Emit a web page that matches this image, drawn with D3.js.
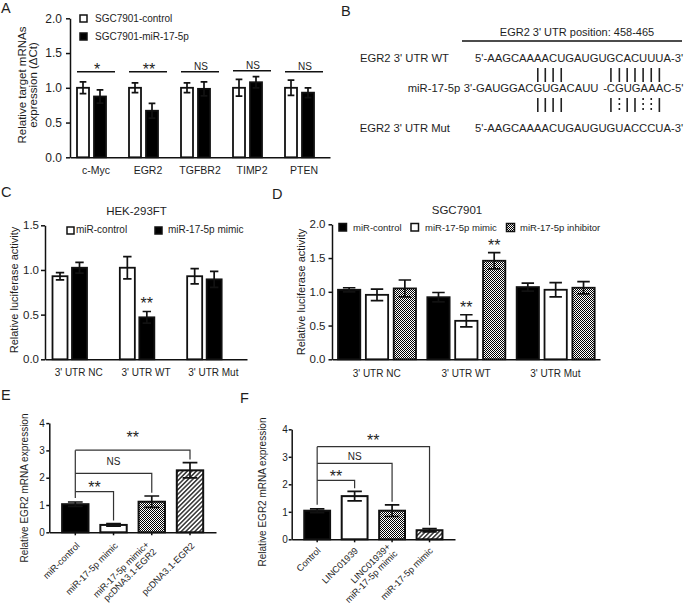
<!DOCTYPE html>
<html>
<head>
<meta charset="utf-8">
<script src="https://cdn.jsdelivr.net/npm/d3@7/dist/d3.min.js"></script>
<style>
  html,body{margin:0;padding:0;background:#fff;}
  svg text{font-family:Arial,"Liberation Sans",Helvetica,sans-serif;fill:#1e1e1e;}
</style>
</head>
<body>
<svg id="fig" width="685" height="607" xmlns="http://www.w3.org/2000/svg"></svg>
<script>
// ================= DATA =================
// Panel A
const aGenes = ["c-Myc", "EGR2", "TGFBR2", "TIMP2", "PTEN"];
const aSeries = ["SGC7901-control", "SGC7901-miR-17-5p"];
const aControl = [1.00, 1.00, 1.00, 1.00, 1.00];
const aControlErr = [0.085, 0.07, 0.07, 0.12, 0.11];
const aMiR = [0.875, 0.67, 0.985, 1.08, 0.93];
const aMiRErr = [0.095, 0.105, 0.10, 0.08, 0.07];
const aSig = ["*", "**", "NS", "NS", "NS"];
const aSigLevel = [1.23, 1.23, 1.23, 1.245, 1.23];
const aTicks = [0, 0.5, 1.0, 1.5, 2.0];
const aYTitle = ["Relative target mRNAs", "expression (\u0394Ct)"];

// Panel B
const bHeader = "EGR2 3' UTR position: 458-465";
const bRowLabels = ["EGR2 3' UTR WT", "miR-17-5p", "EGR2 3' UTR Mut"];
const bWT = "5'-AAGCAAAACUGAUGUGCACUUUA-3'";
const bMiR5 = "3'-GAUGGACGUGACAUU";
const bMiR3 = "-CGUGAAAC-5'";
const bMut = "5'-AAGCAAAACUGAUGUGUACCCUA-3'";
const bPairIdx = [9, 10, 11, 12, 18, 19, 20, 21, 22, 23, 24];
const bWTPair = ["|", "|", "|", "|", "|", "|", "|", "|", "|", "|", "|"];
const bMutPair = ["|", "|", "|", "|", "|", ":", "|", "|", ":", ":", "|"];

// Panel C
const cTitle = "HEK-293FT";
const cGroups = ["3' UTR NC", "3' UTR WT", "3' UTR Mut"];
const cSeries = ["miR-control", "miR-17-5p mimic"];
const cControl = [0.93, 1.025, 0.93];
const cControlErr = [0.04, 0.125, 0.085];
const cMimic = [1.025, 0.47, 0.895];
const cMimicErr = [0.06, 0.065, 0.09];
const cMimicSig = ["", "**", ""];
const cTicks = [0, 0.5, 1.0, 1.5];

// Panel D
const dTitle = "SGC7901";
const dGroups = ["3' UTR NC", "3' UTR WT", "3' UTR Mut"];
const dSeries = ["miR-control", "miR-17-5p mimic", "miR-17-5p inhibitor"];
const dControl = [1.03, 0.92, 1.07];
const dControlErr = [0.03, 0.07, 0.06];
const dMimic = [0.955, 0.57, 1.03];
const dMimicErr = [0.085, 0.09, 0.105];
const dInhib = [1.05, 1.46, 1.06];
const dInhibErr = [0.125, 0.12, 0.09];
const dMimicSig = ["", "**", ""];
const dInhibSig = ["", "**", ""];
const dTicks = [0, 0.5, 1.0, 1.5, 2.0];
const cdYTitle = "Relative luciferase activity";

// Panel E
const eCats = [["miR-control"], ["miR-17-5p mimic"], ["miR-17-5p mimic+", "pcDNA3.1-EGR2"], ["pcDNA3.1-EGR2"]];
const eValues = [1.03, 0.27, 1.12, 2.27];
const eErr = [0.08, 0.045, 0.21, 0.28];
const eFills = ["black", "white", "checker", "hatch"];
const eBracketTo = [1, 2, 3];
const eBracketLevel = [1.49, 2.16, 3.01];
const eBracketLabel = ["**", "NS", "**"];
const eBracketLabelAt = [1.79, 2.59, 3.59];
const eTicks = [0, 1, 2, 3, 4];

// Panel F
const fCats = [["Control"], ["LINC01939"], ["LINC01939+", "miR-17-5p mimic"], ["miR-17-5p mimic"]];
const fValues = [1.04, 1.57, 1.04, 0.33];
const fErr = [0.07, 0.17, 0.21, 0.06];
const fFills = ["black", "white", "checker", "hatch"];
const fBracketTo = [1, 2, 3];
const fBracketLevel = [2.14, 2.76, 3.37];
const fBracketLabel = ["**", "NS", "**"];
const fBracketLabelAt = [2.40, 3.00, 3.73];
const fTicks = [0, 1, 2, 3, 4];
const efYTitle = "Relative EGR2 mRNA expression";

const panelLetters = ["A", "B", "C", "D", "E", "F"];

// ================= RENDER =================
const svg = d3.select("#fig");
const FONT = 'Arial, "Liberation Sans", Helvetica, sans-serif';
const INK = "#111";
const fillOf = {black: "#000", white: "#fff", checker: "url(#checker)", hatch: "url(#hatch)"};

const defs = svg.append("defs");
const chk = defs.append("pattern").attr("id", "checker").attr("width", 2).attr("height", 2)
  .attr("patternUnits", "userSpaceOnUse");
chk.append("rect").attr("width", 2).attr("height", 2).attr("fill", "#fff");
chk.append("rect").attr("width", 1).attr("height", 1).attr("fill", "#000");
chk.append("rect").attr("x", 1).attr("y", 1).attr("width", 1).attr("height", 1).attr("fill", "#000");
const hat = defs.append("pattern").attr("id", "hatch").attr("width", 3.2).attr("height", 3.2)
  .attr("patternUnits", "userSpaceOnUse").attr("patternTransform", "rotate(45)");
hat.append("rect").attr("width", 3.2).attr("height", 3.2).attr("fill", "#fff");
hat.append("line").attr("x1", 1.6).attr("x2", 1.6).attr("y1", 0).attr("y2", 3.2)
  .attr("stroke", "#000").attr("stroke-width", 1.2);

function text(x, y, s, fs, anchor) {
  return svg.append("text").attr("x", x).attr("y", y).attr("font-size", fs)
    .attr("text-anchor", anchor || "start").text(s);
}
function rotText(x, y, s, fs) {
  return svg.append("text").attr("transform", `translate(${x},${y}) rotate(-90)`)
    .attr("font-size", fs).attr("text-anchor", "middle").text(s);
}
function styleAxis(g, fs) {
  g.attr("font-family", null).attr("font-size", null);
  g.select(".domain").attr("stroke", INK).attr("stroke-width", 1.5);
  g.selectAll(".tick line").attr("stroke", INK).attr("stroke-width", 1.5);
  g.selectAll(".tick text").attr("fill", "#1e1e1e").attr("font-size", fs).attr("font-family", FONT);
}
function yAxis(scale, x, ticks, fmt, fs, size, pad) {
  const g = svg.append("g").attr("transform", `translate(${x},0)`)
    .call(d3.axisLeft(scale).tickValues(ticks).tickFormat(fmt).tickSize(size).tickPadding(pad).tickSizeOuter(0));
  styleAxis(g, fs);
  return g;
}
function xAxis(scale, y, fs, tickSize, labelBaseline, showLabels) {
  const g = svg.append("g").attr("transform", `translate(0,${y})`)
    .call(d3.axisBottom(scale).tickSize(tickSize).tickSizeOuter(0));
  styleAxis(g, fs);
  if (showLabels) g.selectAll(".tick text").attr("y", labelBaseline).attr("dy", null);
  else g.selectAll(".tick text").remove();
  if (tickSize === 0) g.selectAll(".tick line").remove();
  return g;
}
function drawBars(recs, y, sw) {
  svg.append("g").selectAll("rect").data(recs).join("rect")
    .attr("x", d => d.x).attr("y", d => y(d.v)).attr("width", d => d.w)
    .attr("height", d => y(0) - y(d.v))
    .attr("fill", d => fillOf[d.fill]).attr("stroke", INK).attr("stroke-width", sw);
  const eb = svg.append("g").attr("stroke", INK).attr("stroke-width", 1.7).attr("fill", "none");
  recs.forEach(d => {
    const cx = d.x + d.w / 2, hw = d.w * 0.28;
    const yt = y(d.v + d.e), yb = y(d.v - d.e);
    eb.append("path").attr("d", `M${cx},${yt}V${yb}M${cx - hw},${yt}H${cx + hw}M${cx - hw},${yb}H${cx + hw}`);
  });
}
function sigText(x, cy, label) {
  if (!label) return;
  const star = label.indexOf("*") >= 0;
  const fs = star ? 16 : 10;
  text(x, cy + (star ? 0.57 : 0.36) * fs, label, fs, "middle");
}
function legendBox(x, y, size, fill) {
  svg.append("rect").attr("x", x).attr("y", y).attr("width", size).attr("height", size)
    .attr("fill", fillOf[fill]).attr("stroke", INK).attr("stroke-width", 1.5);
}

// ---------- Panel letters ----------
const letterPos = [[1, 13], [341, 16], [1, 197], [272, 199], [1, 400], [240, 403]];
panelLetters.forEach((L, i) => text(letterPos[i][0], letterPos[i][1], L, 14.5));

// ---------- Panel A ----------
{
  const y = d3.scaleLinear().domain([0, 2]).range([157.3, 18.3]);
  const x = d3.scaleBand().domain(aGenes).range([70, 330]);
  const xs = d3.scaleBand().domain(aSeries).range([7, 36]).paddingInner(0.294);
  const recs = [];
  aGenes.forEach((g, i) => {
    recs.push({x: x(g) + xs(aSeries[0]), w: xs.bandwidth(), v: aControl[i], e: aControlErr[i], fill: "white"});
    recs.push({x: x(g) + xs(aSeries[1]), w: xs.bandwidth(), v: aMiR[i], e: aMiRErr[i], fill: "black"});
  });
  drawBars(recs, y, 1.8);
  yAxis(y, 70, aTicks, d3.format(".1f"), 12, 4, 4);
  xAxis(x, y(0), 10.5, 0, 17, true);
  aGenes.forEach((g, i) => {
    const yl = y(aSigLevel[i]);
    svg.append("line").attr("x1", x(g) + 7).attr("x2", x(g) + 45).attr("y1", yl).attr("y2", yl)
      .attr("stroke", INK).attr("stroke-width", 1.5);
    sigText(x(g) + 27, yl - 5.5, aSig[i]);
  });
  legendBox(80, 15, 7, "white");
  text(95, 22, aSeries[0], 10);
  legendBox(80, 33, 7, "black");
  text(95, 40, aSeries[1], 10);
  rotText(26, 85, aYTitle[0], 11.5);
  rotText(37, 85, aYTitle[1], 11.5);
}

// ---------- Panel B ----------
{
  const fs = 11.25;
  const rowY = [62, 92, 132];
  text(577, 36, bHeader, 11, "middle");
  svg.append("line").attr("x1", 462).attr("x2", 682).attr("y1", 41).attr("y2", 41)
    .attr("stroke", INK).attr("stroke-width", 1.3);
  const wt = text(475, rowY[0], bWT, fs);
  text(475, rowY[2], bMut, fs);
  const wn = wt.node();
  const cen = (n, i) => (n.getStartPositionOfChar(i).x + n.getEndPositionOfChar(i).x) / 2;
  const m1 = text(0, rowY[1], bMiR5, fs);
  const m1x = cen(wn, 9) - cen(m1.node(), 10);
  m1.attr("x", m1x);
  const m2 = text(0, rowY[1], bMiR3, fs);
  m2.attr("x", cen(wn, 18) - cen(m2.node(), 1));
  text(449, rowY[0], bRowLabels[0], fs, "end");
  text(m1x - 3.5, rowY[1], bRowLabels[1], fs, "end");
  text(450, rowY[2], bRowLabels[2], fs, "end");
  bPairIdx.forEach((ci, k) => {
    const px = cen(wn, ci);
    const l1 = svg.append("line").attr("x1", px).attr("x2", px).attr("y1", 68).attr("y2", 82)
      .attr("stroke", "#222").attr("stroke-width", 1.6);
    if (bWTPair[k] === ":") l1.attr("stroke-dasharray", "2,3");
    const l2 = svg.append("line").attr("x1", px).attr("x2", px).attr("y1", 98).attr("y2", 112)
      .attr("stroke", "#222").attr("stroke-width", 1.6);
    if (bMutPair[k] === ":") l2.attr("stroke-dasharray", "2,3");
  });
}

// ---------- Panel C ----------
{
  const y = d3.scaleLinear().domain([0, 1.5]).range([359.3, 225.3]);
  const x = d3.scaleBand().domain(cGroups).range([45, 247]);
  const xs = d3.scaleBand().domain(cSeries).range([7.5, 42]).paddingInner(0.23);
  const recs = [];
  cGroups.forEach((g, i) => {
    recs.push({x: x(g) + xs(cSeries[0]), w: xs.bandwidth(), v: cControl[i], e: cControlErr[i], fill: "white"});
    recs.push({x: x(g) + xs(cSeries[1]), w: xs.bandwidth(), v: cMimic[i], e: cMimicErr[i], fill: "black"});
  });
  drawBars(recs, y, 1.8);
  yAxis(y, 45, cTicks, d3.format(".1f"), 11.5, 4, 2);
  xAxis(x, y(0), 10, 0, 17, true);
  cGroups.forEach((g, i) => {
    sigText(x(g) + xs(cSeries[1]) + xs.bandwidth() / 2, y(cMimic[i] + cMimicErr[i]) - 12, cMimicSig[i]);
  });
  text(136.5, 215, cTitle, 11.5, "middle");
  legendBox(67, 227, 7, "white");
  text(76, 233, cSeries[0], 10);
  legendBox(155, 227, 7, "black");
  text(168, 233, cSeries[1], 10);
  rotText(18, 290, cdYTitle, 11);
}

// ---------- Panel D ----------
{
  const y = d3.scaleLinear().domain([0, 2]).range([359.3, 224.3]);
  const x = d3.scaleBand().domain(dGroups).range([332, 600]);
  const xs = d3.scaleBand().domain(dSeries).range([6, 84]).paddingInner(0.2);
  const recs = [];
  dGroups.forEach((g, i) => {
    recs.push({x: x(g) + xs(dSeries[0]), w: xs.bandwidth(), v: dControl[i], e: dControlErr[i], fill: "black"});
    recs.push({x: x(g) + xs(dSeries[1]), w: xs.bandwidth(), v: dMimic[i], e: dMimicErr[i], fill: "white"});
    recs.push({x: x(g) + xs(dSeries[2]), w: xs.bandwidth(), v: dInhib[i], e: dInhibErr[i], fill: "checker"});
  });
  drawBars(recs, y, 1.8);
  yAxis(y, 332, dTicks, d3.format(".1f"), 11.5, 3.5, 3);
  xAxis(x, y(0), 10, 0, 18, true);
  dGroups.forEach((g, i) => {
    sigText(x(g) + xs(dSeries[1]) + xs.bandwidth() / 2, y(dMimic[i] + dMimicErr[i]) - 11, dMimicSig[i]);
    sigText(x(g) + xs(dSeries[2]) + xs.bandwidth() / 2, y(dInhib[i] + dInhibErr[i]) - 11, dInhibSig[i]);
  });
  text(457, 214, dTitle, 11.5, "middle");
  legendBox(339, 223.5, 7.5, "black");
  text(353, 231, dSeries[0], 9.5);
  legendBox(411, 223.5, 7.5, "white");
  text(425, 231, dSeries[1], 9.5);
  legendBox(506.5, 223.5, 8, "checker");
  text(520, 231, dSeries[2], 9.5);
  rotText(305, 292, cdYTitle, 11);
}

// ---------- Panels E & F ----------
function catPanel(opt) {
  const {cats, values, errs, fills, to, level, label, labelAt, yr, xr, ticks, axisPad,
         titleX, titleY, lblDx, lblDy, lbl2Dx, lbl2Dy} = opt;
  const y = d3.scaleLinear().domain([0, 4]).range(yr);
  const x = d3.scaleBand().domain(d3.range(cats.length)).range(xr).paddingInner(0.31).paddingOuter(0.335);
  const recs = values.map((v, i) => ({x: x(i), w: x.bandwidth(), v: v, e: errs[i], fill: fills[i]}));
  drawBars(recs, y, 2);
  yAxis(y, xr[0], ticks, d3.format("d"), 10, 3, axisPad);
  xAxis(x, y(0), 10, 3, 0, false);
  // brackets
  const bg = svg.append("g").attr("stroke", "#333").attr("stroke-width", 1.2).attr("fill", "none");
  const cx0 = x(0) + x.bandwidth() / 2;
  bg.append("path").attr("d", `M${cx0},${y(d3.max(level))}V${y(values[0] + errs[0] + 0.15)}`);
  to.forEach((j, k) => {
    const cx = x(j) + x.bandwidth() / 2;
    bg.append("path").attr("d", `M${cx0},${y(level[k])}H${cx}V${y(values[j] + errs[j] + 0.12)}`);
    sigText((cx0 + cx) / 2, y(labelAt[k]), label[k]);
  });
  // rotated category labels
  cats.forEach((lines, i) => {
    const cx = x(i) + x.bandwidth() / 2;
    const n = lines.length;
    lines.forEach((ln, k) => {
      const ax = n === 1 ? cx + lblDx : cx + lbl2Dx + k * 7;
      const ay = n === 1 ? y(0) + lblDy : y(0) + lbl2Dy + k * 7;
      svg.append("text").attr("transform", `translate(${ax},${ay}) rotate(-45)`)
        .attr("text-anchor", "end").attr("font-size", 9.2).text(ln);
    });
  });
  rotText(titleX, titleY, efYTitle, 10);
}
catPanel({cats: eCats, values: eValues, errs: eErr, fills: eFills, to: eBracketTo, level: eBracketLevel,
  label: eBracketLabel, labelAt: eBracketLabelAt, yr: [532.3, 423.1], xr: [49.3, 216], ticks: eTicks,
  axisPad: 1.5, titleX: 28, titleY: 488, lblDx: 5, lblDy: 14, lbl2Dx: -2, lbl2Dy: 13});
catPanel({cats: fCats, values: fValues, errs: fErr, fills: fFills, to: fBracketTo, level: fBracketLevel,
  label: fBracketLabel, labelAt: fBracketLabelAt, yr: [539.3, 429.3], xr: [291.7, 455], ticks: fTicks,
  axisPad: 1, titleX: 266, titleY: 492, lblDx: 4, lblDy: 12, lbl2Dx: -1, lbl2Dy: 8});
</script>
</body>
</html>
